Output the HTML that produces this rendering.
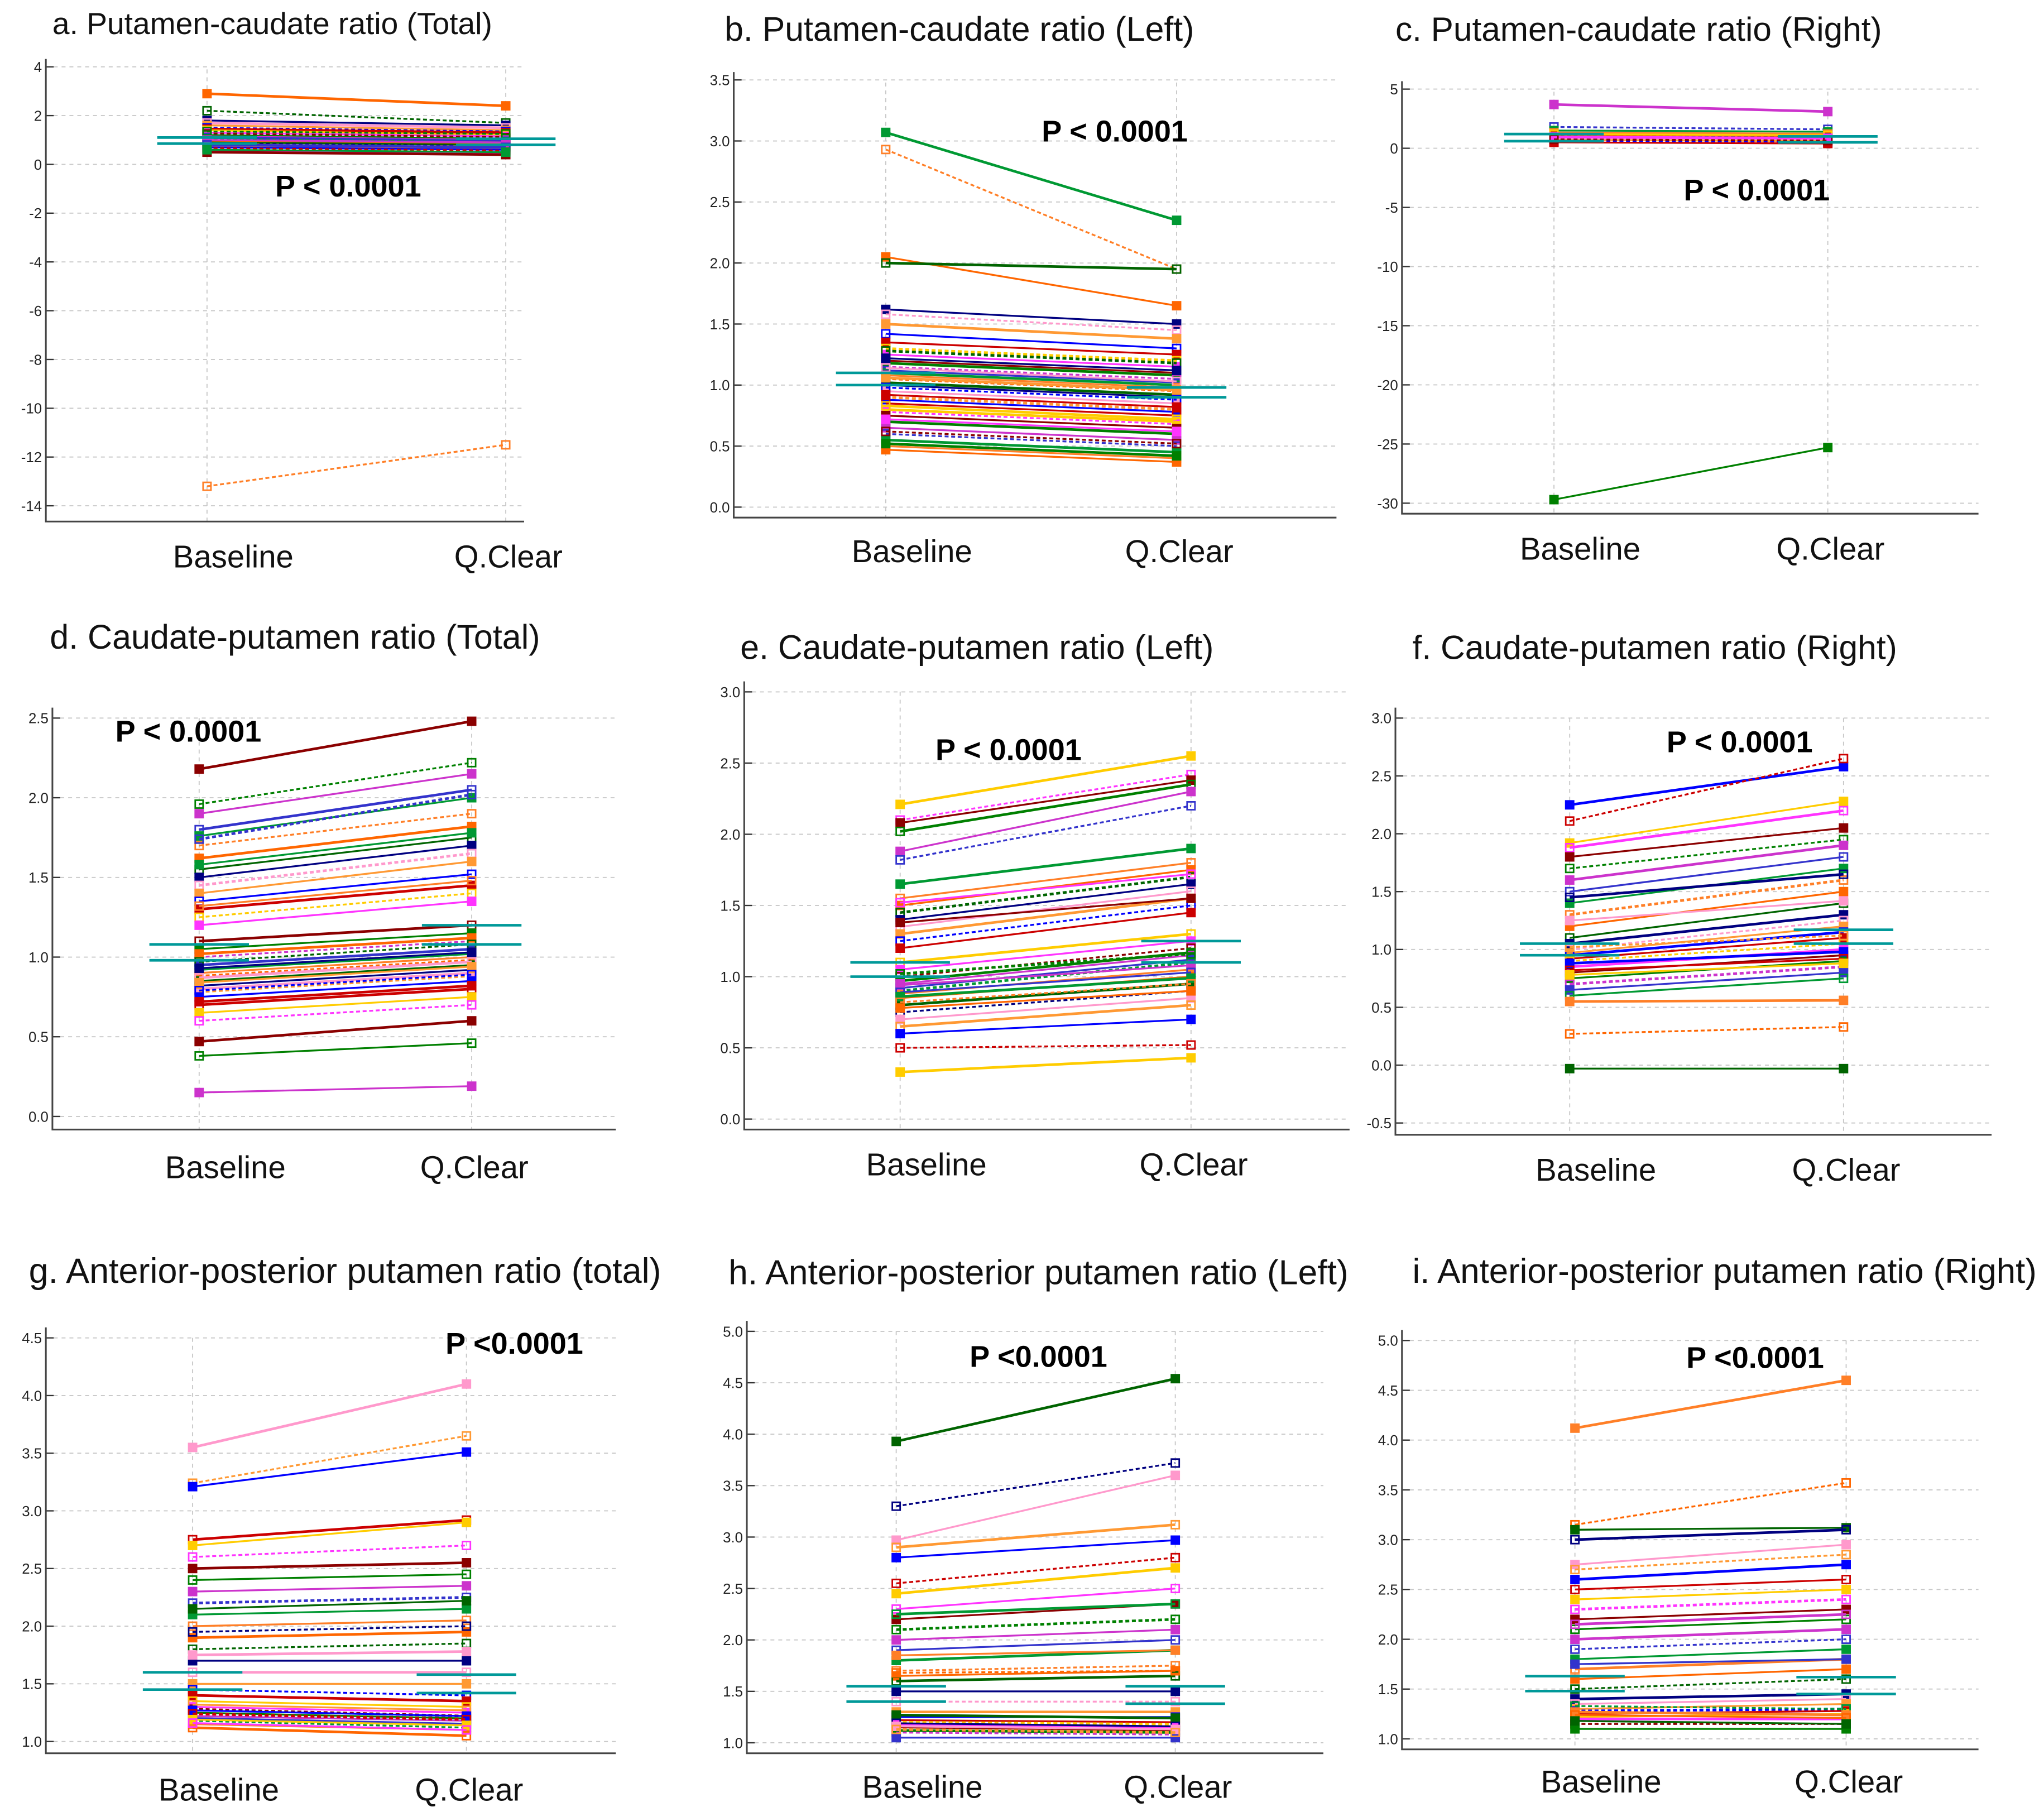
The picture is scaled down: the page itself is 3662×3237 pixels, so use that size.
<!DOCTYPE html>
<html><head><meta charset="utf-8"><style>
html,body{margin:0;padding:0;background:#fff}
svg{display:block}
</style></head><body>
<svg id="fig" width="3662" height="3237" viewBox="0 0 1560 1379" preserveAspectRatio="none" xmlns="http://www.w3.org/2000/svg" font-family="'Liberation Sans', sans-serif">
<rect width="1560" height="1379" fill="#fff"/>
</svg>
<script>
// ---- data (baseline / Q.Clear values per subject) ----
const categories = ["Baseline","Q.Clear"];
const aB=[2.9,2.2,1.8,1.7,1.6,1.5,1.45,1.4,1.3,1.25,1.2,1.15,1.1,1.05,1.0,0.95,0.9,0.85,0.8,0.75,0.7,0.65,0.6,0.55,0.5,1.35,1.0,0.8,0.6,-13.2];
const aQ=[2.4,1.7,1.6,1.5,1.4,1.35,1.3,1.2,1.15,1.1,1.05,1.0,0.95,0.9,0.85,0.8,0.8,0.75,0.7,0.65,0.6,0.55,0.5,0.45,0.4,1.25,0.9,0.7,0.5,-11.5];
const bB=[3.07,2.93,2.05,2.0,1.62,1.58,1.5,1.42,1.35,1.3,1.25,1.2,1.18,1.15,1.12,1.1,1.08,1.05,1.02,1.0,0.95,0.9,0.88,0.85,0.8,0.78,0.75,0.7,0.65,0.6,0.55,0.5,0.47,1.28,1.22,1.14,1.06,0.98,0.92,0.83,0.72,0.62,0.52];
const bQ=[2.35,1.95,1.65,1.95,1.5,1.45,1.38,1.3,1.25,1.2,1.15,1.1,1.08,1.05,1.02,1.0,0.98,0.95,0.92,0.9,0.85,0.8,0.78,0.75,0.7,0.68,0.65,0.6,0.55,0.5,0.45,0.4,0.37,1.18,1.12,1.03,0.96,0.88,0.82,0.72,0.62,0.52,0.42];
const cB=[3.7,1.8,1.5,1.3,1.1,1.0,0.9,0.8,0.7,0.6,0.5,1.2,0.95,0.75,-29.7];
const cQ=[3.1,1.6,1.4,1.2,1.0,0.9,0.8,0.7,0.6,0.5,0.4,1.1,0.85,0.65,-25.3];
const dB=[2.18,1.96,1.9,1.8,1.76,1.7,1.62,1.55,1.5,1.45,1.4,1.35,1.3,1.25,1.2,1.1,1.05,1.0,0.95,0.92,0.9,0.88,0.85,0.82,0.8,0.78,0.75,0.7,0.65,0.6,0.47,0.38,0.15,1.74,1.58,1.32,1.02,0.97,0.93,0.87,0.84,0.79,0.72];
const dQ=[2.48,2.22,2.15,2.05,2.0,1.9,1.82,1.75,1.7,1.65,1.6,1.52,1.45,1.4,1.35,1.2,1.15,1.1,1.05,1.02,1.0,0.98,0.95,0.92,0.9,0.88,0.85,0.8,0.75,0.7,0.6,0.46,0.19,2.02,1.78,1.48,1.12,1.08,1.03,0.97,0.94,0.89,0.82];
const eB=[2.21,2.1,2.08,2.02,1.88,1.82,1.65,1.55,1.5,1.45,1.4,1.35,1.3,1.25,1.2,1.1,1.05,1.0,0.97,0.95,0.92,0.9,0.88,0.85,0.8,0.75,0.7,0.65,0.6,0.5,0.33,1.52,1.38,1.02,0.94,0.89,0.86,0.82,0.78];
const eQ=[2.55,2.42,2.38,2.35,2.3,2.2,1.9,1.8,1.75,1.7,1.65,1.6,1.55,1.5,1.45,1.3,1.25,1.2,1.17,1.15,1.12,1.1,1.05,1.0,0.95,0.9,0.85,0.8,0.7,0.52,0.43,1.72,1.55,1.16,1.08,1.03,0.99,0.95,0.9];
const fB=[2.25,2.11,1.92,1.88,1.8,1.7,1.6,1.5,1.4,1.3,1.2,1.1,1.05,1.0,0.97,0.95,0.92,0.9,0.85,0.8,0.75,0.7,0.65,0.6,0.55,0.27,-0.03,1.45,1.25,1.02,0.88,0.82,0.78];
const fQ=[2.58,2.65,2.28,2.2,2.05,1.95,1.9,1.8,1.7,1.6,1.5,1.4,1.3,1.25,1.2,1.15,1.1,1.05,1.0,0.95,0.9,0.85,0.8,0.75,0.56,0.33,-0.03,1.65,1.42,1.12,0.98,0.92,0.88];
const gB=[3.55,3.24,3.21,2.75,2.7,2.6,2.5,2.4,2.3,2.2,2.1,2.0,1.9,1.8,1.7,1.6,1.5,1.45,1.4,1.35,1.3,1.28,1.25,1.22,1.2,1.18,1.15,1.12,2.15,1.95,1.75,1.32,1.27,1.24,1.19,1.16];
const gQ=[4.1,3.65,3.51,2.92,2.9,2.7,2.55,2.45,2.35,2.25,2.15,2.05,1.95,1.85,1.7,1.6,1.5,1.4,1.35,1.3,1.25,1.22,1.2,1.18,1.15,1.12,1.1,1.05,2.22,2.0,1.78,1.27,1.22,1.19,1.14,1.1];
const hB=[3.93,3.3,2.97,2.9,2.8,2.55,2.45,2.3,2.2,2.1,2.0,1.9,1.8,1.7,1.65,1.6,1.5,1.4,1.3,1.25,1.22,1.2,1.18,1.15,1.12,1.1,1.05,2.25,1.85,1.68,1.27,1.19,1.16,1.13];
const hQ=[4.54,3.72,3.6,3.12,2.97,2.8,2.7,2.5,2.35,2.2,2.1,2.0,1.9,1.75,1.7,1.65,1.5,1.4,1.3,1.25,1.2,1.18,1.15,1.12,1.1,1.08,1.05,2.35,1.9,1.7,1.24,1.16,1.13,1.1];
const iB=[4.12,3.15,3.1,3.0,2.75,2.7,2.6,2.5,2.4,2.3,2.2,2.1,2.0,1.9,1.8,1.7,1.6,1.5,1.4,1.35,1.3,1.28,1.25,1.22,1.2,1.15,1.1,2.15,1.75,1.33,1.27,1.24,1.18];
const iQ=[4.6,3.57,3.12,3.1,2.95,2.85,2.75,2.6,2.5,2.4,2.3,2.2,2.1,2.0,1.9,1.8,1.7,1.6,1.45,1.4,1.35,1.3,1.28,1.25,1.2,1.15,1.1,2.25,1.8,1.3,1.24,1.21,1.15];
const meanA=[[1.1,0.85],[1.05,0.8]];
const meanB=[[1.1,1.0],[0.98,0.9]];
const meanC=[[1.2,0.6],[1.0,0.5]];
const meanD=[[1.08,0.98],[1.2,1.08]];
const meanE=[[1.1,1.0],[1.25,1.1]];
const meanF=[[1.05,0.95],[1.17,1.05]];
const meanG=[[1.6,1.45],[1.58,1.42]];
const meanH=[[1.55,1.4],[1.55,1.38]];
const meanI=[[1.63,1.48],[1.62,1.45]];
const ticksA=[4,2,0,-2,-4,-6,-8,-10,-12,-14];
const ticksB=[3.5,3.0,2.5,2.0,1.5,1.0,0.5,0.0];
const ticksC=[5,0,-5,-10,-15,-20,-25,-30];
const ticksD=[2.5,2.0,1.5,1.0,0.5,0.0];
const ticksE=[3.0,2.5,2.0,1.5,1.0,0.5,0.0];
const ticksF=[3.0,2.5,2.0,1.5,1.0,0.5,0.0,-0.5];
const ticksG=[4.5,4.0,3.5,3.0,2.5,2.0,1.5,1.0];
const ticksH=[5.0,4.5,4.0,3.5,3.0,2.5,2.0,1.5,1.0];
const ticksI=[5.0,4.5,4.0,3.5,3.0,2.5,2.0,1.5,1.0];

const palette=["#ff7f27","#3333cc","#008000","#ff33ff","#cc0000","#ff9933","#000080","#ff6600","#009933","#cc33cc","#8b0000","#ffcc00","#0000ff","#ff99cc","#006400"];

const panels=[
 {id:"a",title:"a. Putamen-caudate ratio (Total)",fs:23.5,tx:40,ty:26,x0:35,x1:400,yTop:45,yBot:398,t0:4,p0:51,t1:-14,p1:386,bx:158,qx:386,ly:433,B:aB,Q:aQ,ticks:ticksA,mean:meanA,p:"P < 0.0001",px:210,py:150,dec:0},
 {id:"b",title:"b. Putamen-caudate ratio (Left)",fs:25.9,tx:553,ty:31,x0:560,x1:1020,yTop:55,yBot:395,t0:3.5,p0:61,t1:0,p1:387,bx:676,qx:898,ly:429,B:bB,Q:bQ,ticks:ticksB,mean:meanB,p:"P < 0.0001",px:795,py:108,dec:1},
 {id:"c",title:"c. Putamen-caudate ratio (Right)",fs:25.7,tx:1065,ty:31,x0:1070,x1:1510,yTop:62,yBot:392,t0:5,p0:68,t1:-30,p1:384,bx:1186,qx:1395,ly:427,B:cB,Q:cQ,ticks:ticksC,mean:meanC,p:"P < 0.0001",px:1285,py:153,dec:0},
 {id:"d",title:"d. Caudate-putamen ratio (Total)",fs:26,tx:38,ty:495,x0:40,x1:470,yTop:540,yBot:862,t0:2.5,p0:548,t1:0,p1:852,bx:152,qx:360,ly:899,B:dB,Q:dQ,ticks:ticksD,mean:meanD,p:"P < 0.0001",px:88,py:566,dec:1},
 {id:"e",title:"e. Caudate-putamen ratio (Left)",fs:25.9,tx:565,ty:503,x0:568,x1:1030,yTop:520,yBot:862,t0:3.0,p0:528,t1:0,p1:854,bx:687,qx:909,ly:897,B:eB,Q:eQ,ticks:ticksE,mean:meanE,p:"P < 0.0001",px:714,py:580,dec:1},
 {id:"f",title:"f. Caudate-putamen ratio (Right)",fs:25.8,tx:1078,ty:503,x0:1065,x1:1520,yTop:540,yBot:866,t0:3.0,p0:548,t1:-0.5,p1:857,bx:1198,qx:1407,ly:901,B:fB,Q:fQ,ticks:ticksF,mean:meanF,p:"P < 0.0001",px:1272,py:574,dec:1},
 {id:"g",title:"g. Anterior-posterior putamen ratio (total)",fs:26.8,tx:22,ty:979,x0:35,x1:470,yTop:1013,yBot:1338,t0:4.5,p0:1021,t1:1.0,p1:1329,bx:147,qx:356,ly:1374,B:gB,Q:gQ,ticks:ticksG,mean:meanG,p:"P <0.0001",px:340,py:1033,dec:1},
 {id:"h",title:"h. Anterior-posterior putamen ratio (Left)",fs:26.6,tx:556,ty:980,x0:570,x1:1010,yTop:1008,yBot:1338,t0:5.0,p0:1016,t1:1.0,p1:1330,bx:684,qx:897,ly:1372,B:hB,Q:hQ,ticks:ticksH,mean:meanH,p:"P <0.0001",px:740,py:1043,dec:1},
 {id:"i",title:"i. Anterior-posterior putamen ratio (Right)",fs:26.3,tx:1078,ty:979,x0:1070,x1:1510,yTop:1015,yBot:1335,t0:5.0,p0:1023,t1:1.0,p1:1327,bx:1202,qx:1409,ly:1368,B:iB,Q:iQ,ticks:ticksI,mean:meanI,p:"P <0.0001",px:1287,py:1044,dec:1}
];

const svg=document.getElementById('fig');
const NS="http://www.w3.org/2000/svg";
function mk(tag,attrs,parent){const e=document.createElementNS(NS,tag);for(const k in attrs)e.setAttribute(k,attrs[k]);parent.appendChild(e);return e;}

panels.forEach(P=>{
  const y=v=>P.p0+(v-P.t0)*(P.p1-P.p0)/(P.t1-P.t0);
  const g=mk('g',{},svg);
  
  
  const t=mk('text',{x:P.tx,y:P.ty,'font-size':P.fs,fill:'#111'},g);
  t.textContent=P.title;
  
  
  P.ticks.forEach(v=>{
    const gl=mk('line',{x1:P.x0,x2:P.x1,y1:y(v),y2:y(v),stroke:'#c8c8c8','stroke-width':0.8,'stroke-dasharray':'3 3'},g);
    
    
    const tk=mk('line',{x1:P.x0,x2:P.x0+6,y1:y(v),y2:y(v),stroke:'#333','stroke-width':1},g);
    
    
    const tl=mk('text',{x:P.x0-3,y:y(v)+4,'font-size':11,'text-anchor':'end',fill:'#222'},g);
    tl.textContent=P.dec?v.toFixed(1):String(v);
    
    
  });
  [P.bx,P.qx].forEach((x,k)=>{
    const vl=mk('line',{x1:x,x2:x,y1:P.yTop+8,y2:P.yBot,stroke:'#c8c8c8','stroke-width':0.8,'stroke-dasharray':'3 3'},g);
    
    
    const xl=mk('text',{x:x+(k?2:20),y:P.ly,'font-size':24,'text-anchor':'middle',fill:'#111'},g);
    xl.textContent=categories[k];
    
    
  });
  P.B.forEach((b,i)=>{
    const c=palette[(i*7+P.id.charCodeAt(0))%palette.length];
    const ln=mk('line',{x1:P.bx,x2:P.qx,y1:y(b),y2:y(P.Q[i]),stroke:c,'stroke-width':i%3==0?2:1.4,'stroke-dasharray':i%4==1?'3 2':'none'},g);
    
    
    [[P.bx,b],[P.qx,P.Q[i]]].forEach(([x,v])=>{
      const m=mk('rect',{x:x-3,y:y(v)-3,width:6,height:6,fill:i%2?'none':c,stroke:c,'stroke-width':1.2},g);
      
      
    });
  });
  P.mean.forEach((pair,k)=>{
    const x=k?P.qx:P.bx;
    pair.forEach(v=>{
      const ml=mk('line',{x1:x-38,x2:x+38,y1:y(v),y2:y(v),stroke:'#009999','stroke-width':2},g);
      
      
    });
  });
  const ax=mk('path',{d:`M${P.x0} ${P.yTop} V${P.yBot} H${P.x1}`,fill:'none',stroke:'#444','stroke-width':1.3},g);
  
  
  const pt=mk('text',{x:P.px,y:P.py,'font-size':23,'font-weight':'bold',fill:'#000'},g);
  pt.textContent=P.p;
  
  
});
</script>
</body></html>
